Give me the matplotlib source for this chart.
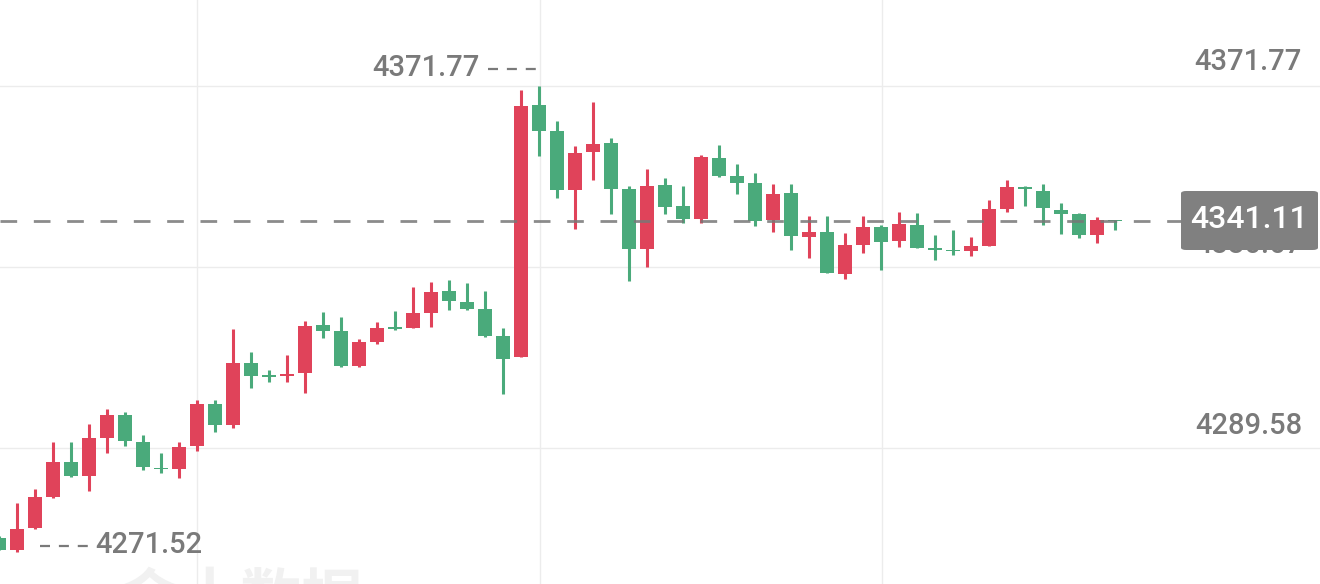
import matplotlib
matplotlib.use("Agg")
import matplotlib.pyplot as plt
from matplotlib.lines import Line2D

# OHLC (red = close above open, green = close below open)
opens = [4269.14, 4266.41, 4271.41, 4278.45, 4286.39, 4283.21, 4291.84, 4297.07, 4290.93, 4285.03,
         4284.80, 4290.03, 4299.56, 4294.80, 4308.87, 4305.92, 4305.92, 4306.60, 4317.50, 4316.14,
         4308.19, 4313.64, 4317.05, 4316.82, 4320.23, 4325.22, 4322.72, 4321.14, 4315.00, 4310.24,
         4367.46, 4361.55, 4348.16, 4356.79, 4358.83, 4348.38, 4334.76, 4349.29, 4344.52, 4341.57,
         4355.42, 4351.34, 4349.75, 4341.34, 4347.48, 4337.48, 4338.62, 4329.08, 4335.67, 4339.75,
         4336.58, 4340.21, 4334.99, 4334.53, 4334.30, 4335.44, 4343.84, 4348.84, 4347.93, 4343.62,
         4342.71, 4337.94, 4341.34]
highs = [4269.59, 4277.08, 4280.26, 4290.93, 4290.93, 4295.02, 4298.43, 4297.75, 4292.52, 4288.44,
         4290.93, 4300.47, 4300.47, 4316.59, 4311.37, 4307.28, 4310.69, 4318.41, 4320.45, 4319.32,
         4314.32, 4318.18, 4320.68, 4326.13, 4327.27, 4327.72, 4327.04, 4325.22, 4316.82, 4370.86,
         4371.77, 4363.82, 4358.15, 4368.14, 4359.96, 4349.06, 4352.93, 4350.88, 4349.06, 4356.10,
         4358.37, 4354.06, 4352.02, 4349.52, 4349.52, 4342.25, 4342.25, 4338.39, 4342.25, 4340.21,
         4343.16, 4342.93, 4337.94, 4339.07, 4337.48, 4345.89, 4350.43, 4349.06, 4349.52, 4345.20,
         4342.93, 4342.03, 4341.34]
lows = [4266.41, 4265.96, 4271.18, 4278.22, 4282.99, 4279.81, 4288.44, 4290.03, 4284.58, 4283.90,
        4282.76, 4288.89, 4293.21, 4294.11, 4303.20, 4304.56, 4304.56, 4302.06, 4314.55, 4307.97,
        4307.97, 4313.19, 4316.37, 4316.82, 4317.05, 4320.91, 4320.91, 4314.78, 4301.83, 4310.24,
        4355.88, 4346.34, 4339.30, 4350.43, 4342.71, 4327.49, 4330.67, 4342.71, 4340.66, 4340.66,
        4351.11, 4347.25, 4339.98, 4338.62, 4334.53, 4332.72, 4329.31, 4327.95, 4333.85, 4329.99,
        4335.21, 4334.99, 4332.26, 4333.40, 4333.17, 4335.44, 4343.16, 4344.52, 4340.21, 4338.17,
        4337.26, 4336.12, 4339.07]
closes = [4266.41, 4271.18, 4278.45, 4286.39, 4283.21, 4291.84, 4297.07, 4291.16, 4285.26, 4284.80,
          4289.80, 4299.56, 4294.80, 4308.87, 4305.92, 4305.81, 4306.38, 4317.28, 4316.14, 4308.19,
          4313.64, 4316.82, 4316.59, 4320.23, 4325.00, 4322.95, 4321.14, 4315.00, 4309.78, 4367.23,
          4361.55, 4348.16, 4356.56, 4358.60, 4348.38, 4334.76, 4349.06, 4344.30, 4341.57, 4355.65,
          4351.34, 4349.75, 4341.12, 4347.25, 4337.71, 4338.62, 4329.31, 4335.67, 4339.75, 4336.35,
          4340.44, 4334.99, 4334.53, 4334.30, 4335.44, 4343.84, 4348.84, 4348.38, 4344.07, 4342.71,
          4337.94, 4341.34, 4341.11]

grid_prices = [4371.77, 4330.67, 4289.58]
max_label = "4371.77"
min_label = "4271.52"
last_price = 4341.11

RED = "#e0435a"
GREEN = "#4aaa7b"

plt.rcParams['font.family'] = ['Roboto', 'Noto Sans CJK SC', 'DejaVu Sans']

W, H = 1320, 584
fig = plt.figure(figsize=(13.2, 5.84), dpi=100)
ax = fig.add_axes([0, 0, 1, 1])
ax.set_xlim(1 / 18, 1321 / 18)
ax.set_ylim(4258.69, 4391.30)
ax.axis("off")

for g in grid_prices:
    ax.axhline(g, color="#ececec", lw=1, zorder=0)
for gx in [11, 30.06, 49.06]:
    ax.axvline(gx, color="#ececec", lw=1, zorder=0)

# watermark
fig.text(0.09, -0.06, "金十数据", fontsize=44, color="#f1f1f1", fontweight="bold",
         family=['Noto Sans CJK SC'], zorder=0)

for i, (o, h, l, c) in enumerate(zip(opens, highs, lows, closes)):
    col = RED if c >= o else GREEN
    ax.vlines(i, l, h, color=col, lw=2.2, zorder=2)
    bh = abs(c - o)
    if bh < 0.35:
        bh = 0.35
    ax.bar(i, bh, bottom=min(o, c) if abs(c - o) >= 0.35 else (o + c) / 2 - 0.175,
           width=0.78, color=col, zorder=2)

ax.axhline(last_price, color="#777777", lw=2, dashes=(6, 6), alpha=0.85, zorder=3)

tc = "#7a7a7a"
kw = dict(fontsize=21, color=tc, fontweight="medium")
fig.text(1302 / W, 1 - 62 / H, grid_prices[0], ha="right", va="center", **kw)
fig.text(1302 / W, 1 - 245 / H, grid_prices[1], ha="right", va="center", **kw)
fig.text(1302 / W, 1 - 426 / H, grid_prices[2], ha="right", va="center", **kw)

fig.patches.append(matplotlib.patches.FancyBboxPatch(
    (1181 / W, 1 - 250 / H), 137 / W, 59 / H, boxstyle="round,pad=0,rounding_size=0.004",
    transform=fig.transFigure, facecolor="#808080", edgecolor="none", zorder=5))
fig.text(1249 / W, 1 - 220 / H, "%.2f" % last_price, ha="center", va="center",
         fontsize=23, color="white", fontweight="medium", zorder=6)

# max / min markers
fig.text(372 / W, 1 - 68 / H, max_label, ha="left", va="center", **kw)
fig.lines.append(Line2D([488 / W, 536 / W], [1 - 69 / H] * 2, transform=fig.transFigure,
                        color=tc, lw=1.6, dashes=(4.5, 4)))
fig.text(202 / W, 1 - 545 / H, min_label, ha="right", va="center", **kw)
fig.lines.append(Line2D([40 / W, 91 / W], [1 - 546 / H] * 2, transform=fig.transFigure,
                        color=tc, lw=1.6, dashes=(4.5, 4)))

fig.savefig("out.png", dpi=100)
